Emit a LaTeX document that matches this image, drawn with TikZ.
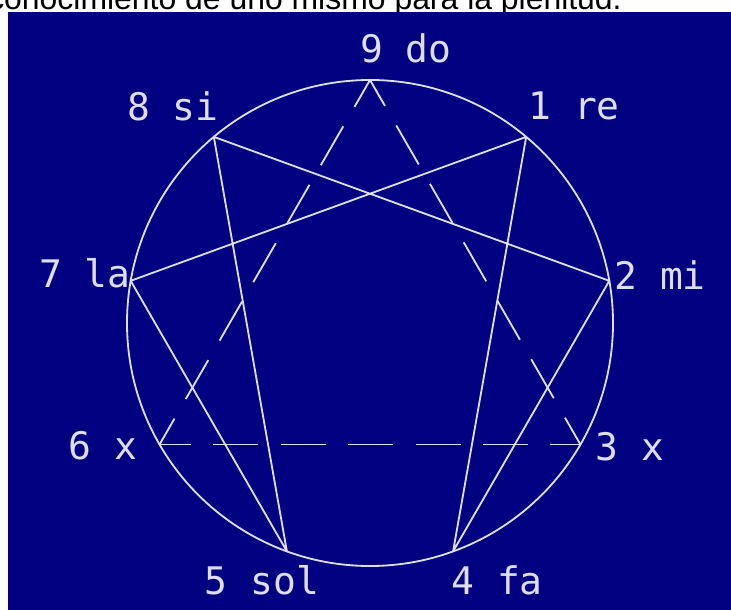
\documentclass[tikz,border=0pt]{standalone}
\usepackage{fontspec}
\setmainfont{Liberation Sans}
\newfontfamily\cadfont{DejaVu Sans Mono}
\usetikzlibrary{positioning}
\definecolor{fondoazul}{RGB}{0,0,128}
\definecolor{trazo}{RGB}{222,222,242}
\tikzset{
  linea/.style={draw=trazo, line width=1.3pt, line join=round},
  discontinua/.style={draw=trazo, line width=1.3pt, dash pattern=on 32pt off 16pt, dash phase=10.7pt},
  etiqueta/.style={text=trazo, font=\cadfont\fontsize{27}{27}\selectfont, inner sep=0pt}
}

\begin{document}
\begin{tikzpicture}[x=0.025cm, y=-0.025cm]
    \useasboundingbox (0,0) rectangle (731,610);
    \clip (0,0) rectangle (731,610);

    % Texto cortado arriba
    \node[anchor=base west, inner sep=0pt, font=\fontsize{22.7}{24}\selectfont] (titulo) at (-12,10) {conocimiento de uno mismo para la plenitud.};

    % Fondo azul
    \fill[fondoazul] (8,12) rectangle (731,610);

    % Circulo y puntos del eneagrama
    \begin{scope}[shift={(370,323)}, yscale=-1]
        \draw[linea] (0,0) circle (243);
        \foreach \n/\ang in {9/90, 1/50, 2/10, 3/-30, 4/-70, 5/-110, 6/-150, 7/170, 8/130}
            \coordinate (p\n) at (\ang:243);
    \end{scope}

    % Triangulo 9-3-6 (discontinuo)
    \draw[discontinua] (p9) -- (p3);
    \draw[discontinua] (p3) -- (p6);
    \draw[discontinua] (p6) -- (p9);

    % Hexada 1-4-2-8-5-7
    \draw[linea] (p1) -- (p4) -- (p2) -- (p8) -- (p5) -- (p7) -- cycle;

    % Etiquetas
    \foreach \n/\txt/\x/\y in {9/9 do/406/48, 1/1 re/574/106, 2/2 mi/660/275, 3/3 x/630/447,
        4/4 fa/497/580, 5/5 sol/262/580, 6/6 x/103/446, 7/7 la/85/273, 8/8 si/173/106}
        \node[etiqueta] (e\n) at (\x,\y) {\txt};

\end{tikzpicture}
\end{document}
